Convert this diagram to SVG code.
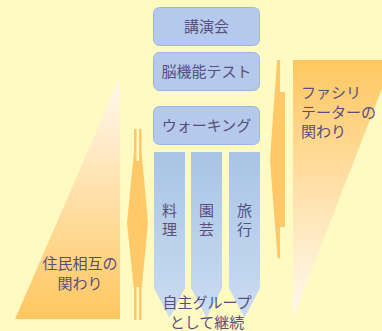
<svg xmlns="http://www.w3.org/2000/svg" width="382" height="331" viewBox="0 0 382 331">
<defs>
<linearGradient id="gl" x1="0" y1="77" x2="0" y2="319" gradientUnits="userSpaceOnUse">
<stop offset="0" stop-color="#FFF8F0"/><stop offset="1" stop-color="#FFC760"/>
</linearGradient>
<linearGradient id="gr" x1="0" y1="60" x2="0" y2="318" gradientUnits="userSpaceOnUse">
<stop offset="0" stop-color="#FFC760"/><stop offset="1" stop-color="#FFFAF2"/>
</linearGradient>
<linearGradient id="gc" x1="0" y1="0" x2="0" y2="1">
<stop offset="0" stop-color="#A8C4E4"/><stop offset="1" stop-color="#CADCF2"/>
</linearGradient>
<style>
.bx{fill:#B4C9EB;stroke:#9CB6E2;stroke-width:1}
.col{fill:url(#gc)}
.t{font-family:"Noto Sans CJK JP","Noto Sans",sans-serif;fill:#5A4E7C;font-size:15px}
.m{text-anchor:middle}
.ar{fill:#FFC868}
</style>
</defs>
<rect width="382" height="331" fill="#FFF9C2"/>
<g id="left-tri">
<polygon points="120,77 120,319 15,319" fill="url(#gl)"/>
<text class="t m" x="80" y="269">住民相互の</text>
<text class="t m" x="80" y="289">関わり</text>
</g>
<g id="right-tri">
<polygon points="293,60 393,60 293,318" fill="url(#gr)"/>
<text class="t" x="301" y="98">ファシリ</text>
<text class="t" x="301" y="118">テーターの</text>
<text class="t" x="301" y="137">関わり</text>
</g>
<g id="connectors">
<path class="ar" d="M134,129 L136.5,129 L136.5,161 L139,161 L139,129 L141.5,129 L141.5,152 L148,223 L141.5,290 L141.5,320 L139,320 L139,287 L136.5,287 L136.5,320 L134,320 L134,290 L127,223 L134,152 Z"/>
<path class="ar" d="M277,60 L280,60 L280,92 L285,92 L285,227 L280,227 L280,258 L277.5,258 L270,160 Z"/>
</g>
<g id="n1"><rect class="bx" x="153.5" y="7.5" width="106" height="38" rx="6"/><text class="t m" x="206.5" y="31.5">講演会</text></g>
<g id="n2"><rect class="bx" x="153.5" y="52.5" width="106" height="38" rx="6"/><text class="t m" x="206.5" y="77">脳機能テスト</text></g>
<g id="n3"><rect class="bx" x="153.5" y="106.5" width="106" height="38" rx="6"/><text class="t m" x="206.5" y="131">ウォーキング</text></g>
<g id="c1"><polygon class="col" points="154,152 185,152 185,288 169.5,318 154,288"/><text class="t m" x="169.5" y="216">料</text><text class="t m" x="169.5" y="235">理</text></g>
<g id="c2"><polygon class="col" points="191,152 222,152 222,288 206.5,318 191,288"/><text class="t m" x="206.5" y="216">園</text><text class="t m" x="206.5" y="235">芸</text></g>
<g id="c3"><polygon class="col" points="229,152 260,152 260,288 244.5,318 229,288"/><text class="t m" x="244.5" y="216">旅</text><text class="t m" x="244.5" y="235">行</text></g>
<g id="label">
<text class="t m" x="207" y="307.5" font-size="14.5">自主グループ</text>
<text class="t m" x="207" y="327.5" font-size="14.5">として継続</text>
</g>
</svg>
